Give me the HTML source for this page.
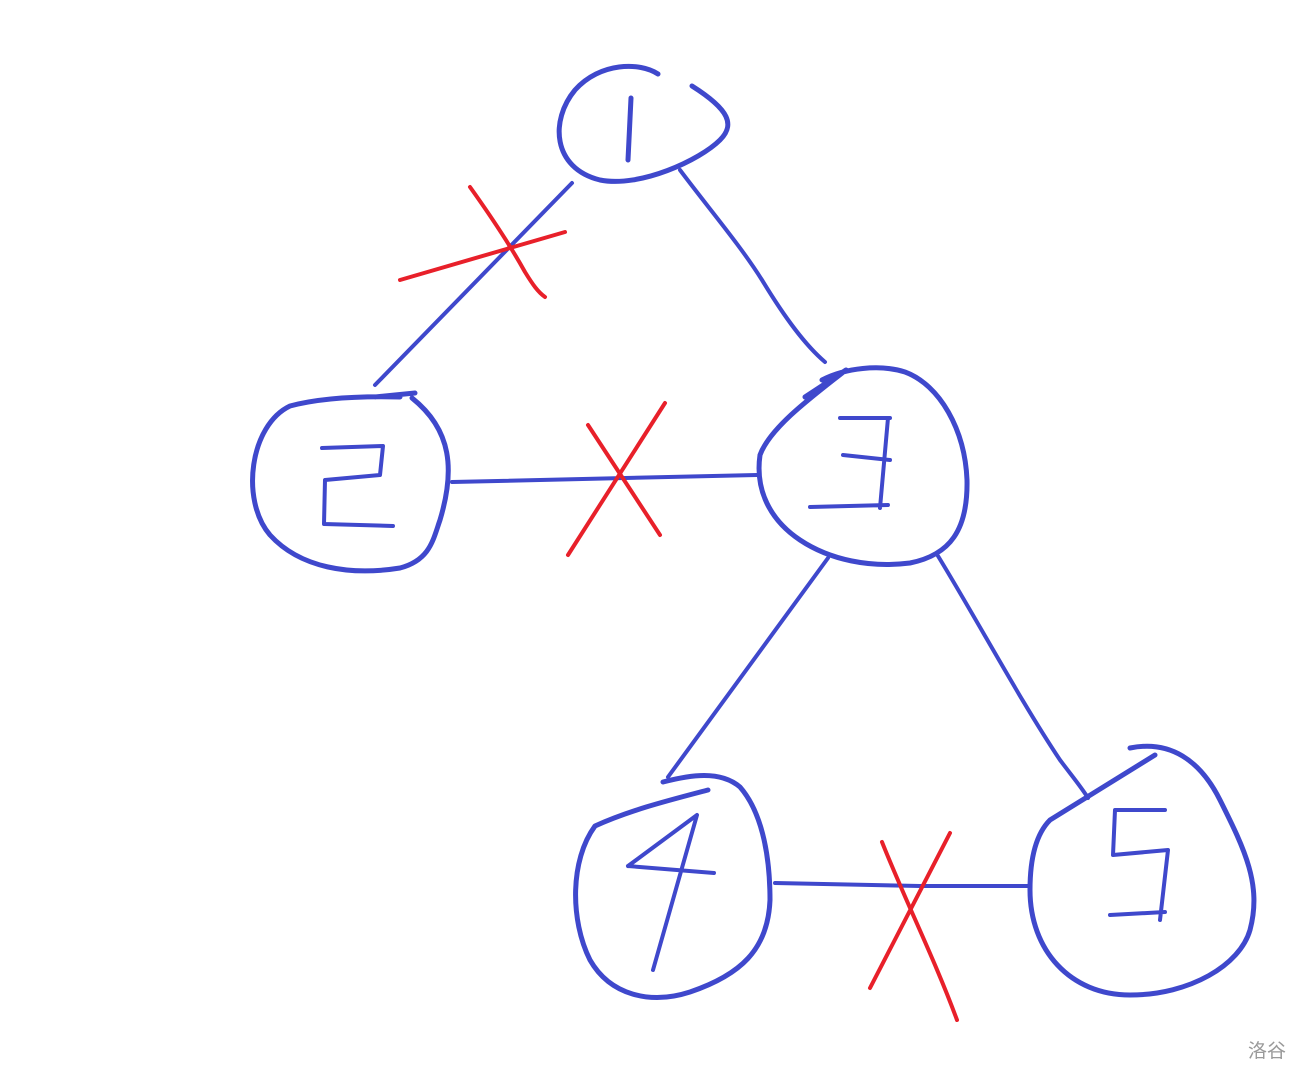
<!DOCTYPE html>
<html><head><meta charset="utf-8"><style>
html,body{margin:0;padding:0;background:#fff;width:1310px;height:1080px;overflow:hidden}
</style></head><body>
<svg width="1310" height="1080" viewBox="0 0 1310 1080" xmlns="http://www.w3.org/2000/svg">
<g fill="none" stroke="#3f48cc" stroke-linecap="round" stroke-linejoin="round">
<!-- node 1 -->
<path stroke-width="5" d="M658,74 C640,62 600,62 575,90 C550,120 552,168 600,180 C640,188 700,160 720,140 C735,125 730,110 692,86"/>
<path stroke-width="5" d="M631,98 L628,160"/>
<!-- edges -->
<path stroke-width="4" d="M572,183 L375,385"/>
<path stroke-width="4" d="M680,170 C710,210 740,245 762,280 C785,318 805,345 825,362"/>
<path stroke-width="4" d="M452,482 L757,475"/>
<path stroke-width="4" d="M828,558 L668,777"/>
<path stroke-width="4" d="M938,556 C980,625 1020,700 1060,760 C1072,776 1082,788 1088,798"/>
<path stroke-width="4" d="M775,883 L920,886 L1028,886"/>
<!-- node 2 -->
<path stroke-width="5" d="M375,397 L415,393 M400,397 C360,396 320,398 290,406 C250,425 240,500 270,535 C300,568 350,576 400,568 C430,560 433,540 440,520 C455,470 452,430 412,398"/>
<path stroke-width="4" d="M322,448 L383,446 L380,475 L325,480 L324,524 L393,526"/>
<!-- node 3 -->
<path stroke-width="5" d="M805,397 L846,370 M846,370 C810,398 770,428 760,455 C755,490 770,520 800,540 C830,560 870,568 910,563 C950,555 968,530 967,480 C965,430 940,385 905,372 C880,364 845,368 822,380"/>
<path stroke-width="4" d="M840,418 L890,418 M843,455 L890,460 M810,507 L888,505 M888,418 L880,508"/>
<!-- node 4 -->
<path stroke-width="5" d="M663,782 C690,775 720,770 740,787 C760,810 770,850 770,900 C768,950 740,975 690,992 C650,1005 610,995 590,960 C570,920 570,860 595,826 C630,810 670,800 708,790"/>
<path stroke-width="4" d="M628,866 L697,815 L653,970 M628,866 L714,873"/>
<!-- node 5 -->
<path stroke-width="5" d="M1130,748 C1170,740 1200,760 1220,800 C1245,850 1262,885 1250,930 C1240,965 1190,995 1130,995 C1070,995 1030,950 1030,890 C1030,850 1040,830 1050,820 L1155,755"/>
<path stroke-width="4" d="M1115,810 L1165,810 M1115,810 L1113,855 L1168,850 L1160,920 M1110,915 L1165,912"/>
</g>
<g fill="none" stroke="#e8202a" stroke-width="4" stroke-linecap="round">
<path d="M470,187 C490,215 510,245 525,272 C533,285 538,292 545,297"/>
<path d="M400,280 L565,232"/>
<path d="M588,425 L660,535"/>
<path d="M665,403 L568,555"/>
<path d="M882,842 C905,900 935,960 957,1020"/>
<path d="M950,833 L870,988"/>
</g>
<text x="1248" y="1057" font-family="'Liberation Sans','Noto Sans CJK SC',sans-serif" font-size="19" fill="#9a9a9a">洛谷</text>
</svg>
</body></html>
